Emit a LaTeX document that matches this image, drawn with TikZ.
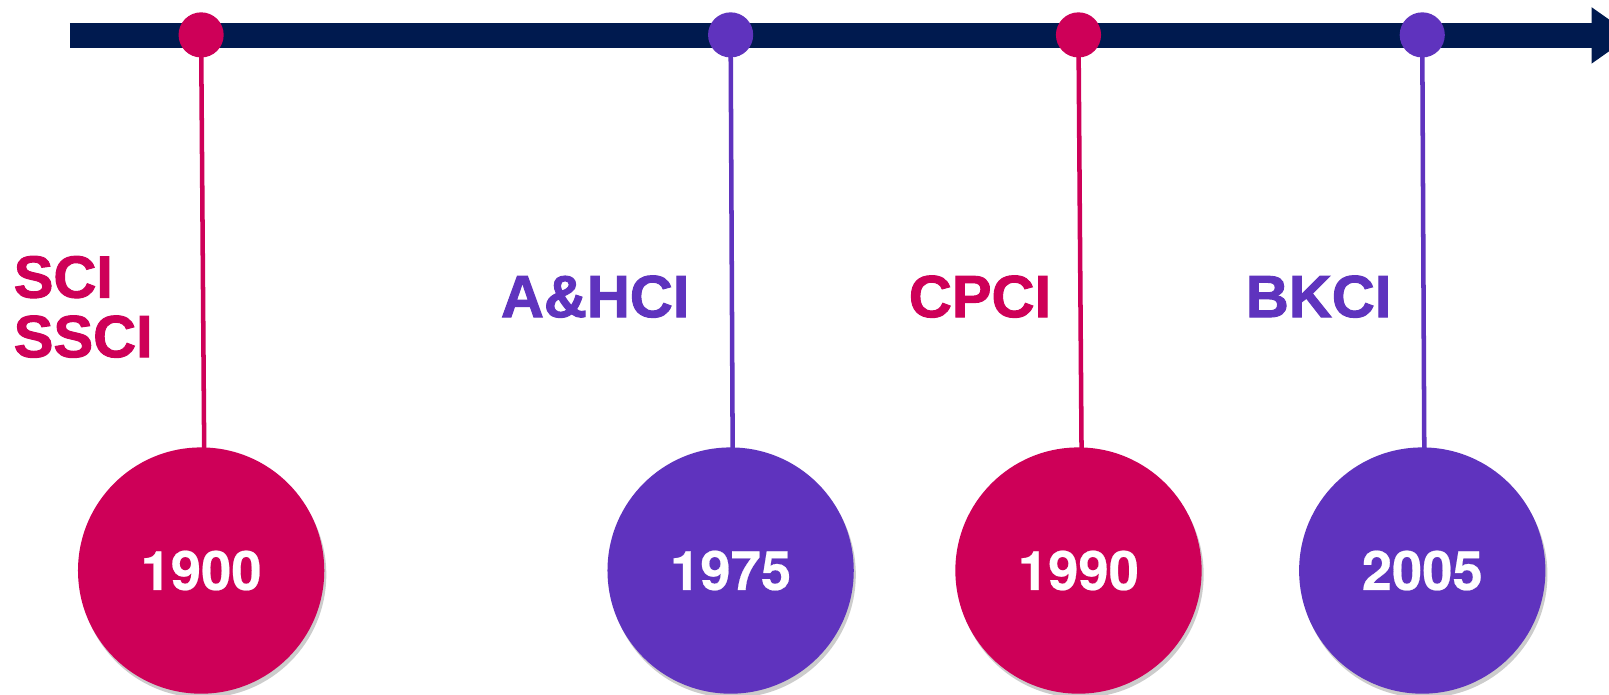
\documentclass[tikz,border=0pt]{standalone}
\usepackage{fontspec}
\setmainfont{Liberation Sans}
\newfontfamily\heavy{Liberation Sans}[FakeBold=1.6,UprightFont=*-Bold]
\newfontfamily\yearfont{TeX Gyre Heros}[UprightFont=* Bold,FakeBold=0.4]
\usetikzlibrary{shadows}
\definecolor{navy}{HTML}{001A4F}
\definecolor{mag}{HTML}{CE0058}
\definecolor{purp}{HTML}{5F33BE}
\begin{document}
\begin{tikzpicture}[x=0.5pt,y=-0.5pt,
  dot/.style={circle,inner sep=0pt,minimum size=22pt},
  yearc/.style={circle,inner sep=0pt,minimum size=120pt,text=white,
    font=\fontsize{26.5}{30}\yearfont,
    drop shadow={shadow xshift=1pt,shadow yshift=-2pt,opacity=0.2,fill=black}},
  stem/.style={line width=2.2pt},
  lab/.style={inner sep=0pt,font=\fontsize{29}{30}\heavy}]
\clip (0,0) rectangle (1568,677);
\fill[white] (0,0) rectangle (1568,677);
% axis
\coordinate (a0) at (68,34.5);
\coordinate (a1) at (1552,34.5);
\draw[navy,line width=12.5pt] (a0) -- (a1);
\fill[navy] (1551,7) -- (1590,34.5) -- (1551,62) -- cycle;
% stems
\coordinate (s1) at (196,34); \coordinate (b1) at (199,440);
\coordinate (s2) at (712,34); \coordinate (b2) at (714,440);
\coordinate (s3) at (1051,34); \coordinate (b3) at (1054,440);
\coordinate (s4) at (1386,34); \coordinate (b4) at (1388,440);
\draw[stem,mag] (s1) -- (b1);
\draw[stem,purp] (s2) -- (b2);
\draw[stem,mag] (s3) -- (b3);
\draw[stem,purp] (s4) -- (b4);
% dots
\node[dot,fill=mag] (d1) at (s1) {};
\node[dot,fill=purp] (d2) at (s2) {};
\node[dot,fill=mag] (d3) at (s3) {};
\node[dot,fill=purp] (d4) at (s4) {};
% circles
\node[yearc,fill=mag] (c1) at (196,556) {1900};
\node[yearc,fill=purp] (c2) at (712,556) {1975};
\node[yearc,fill=mag] (c3) at (1051,556) {1990};
\node[yearc,fill=purp] (c4) at (1386,556) {2005};
% labels
\node[lab,text=mag,anchor=base west] (l1a) at (13,290) {SCI};
\node[lab,text=mag,anchor=base west] (l1b) at (13,348) {SSCI};
\node[lab,text=purp,anchor=base] (l2) at (580,309) {A\&HCI};
\node[lab,text=mag,anchor=base] (l3) at (955,309) {CPCI};
\node[lab,text=purp,anchor=base] (l4) at (1285,309) {BKCI};
\end{tikzpicture}
\end{document}
